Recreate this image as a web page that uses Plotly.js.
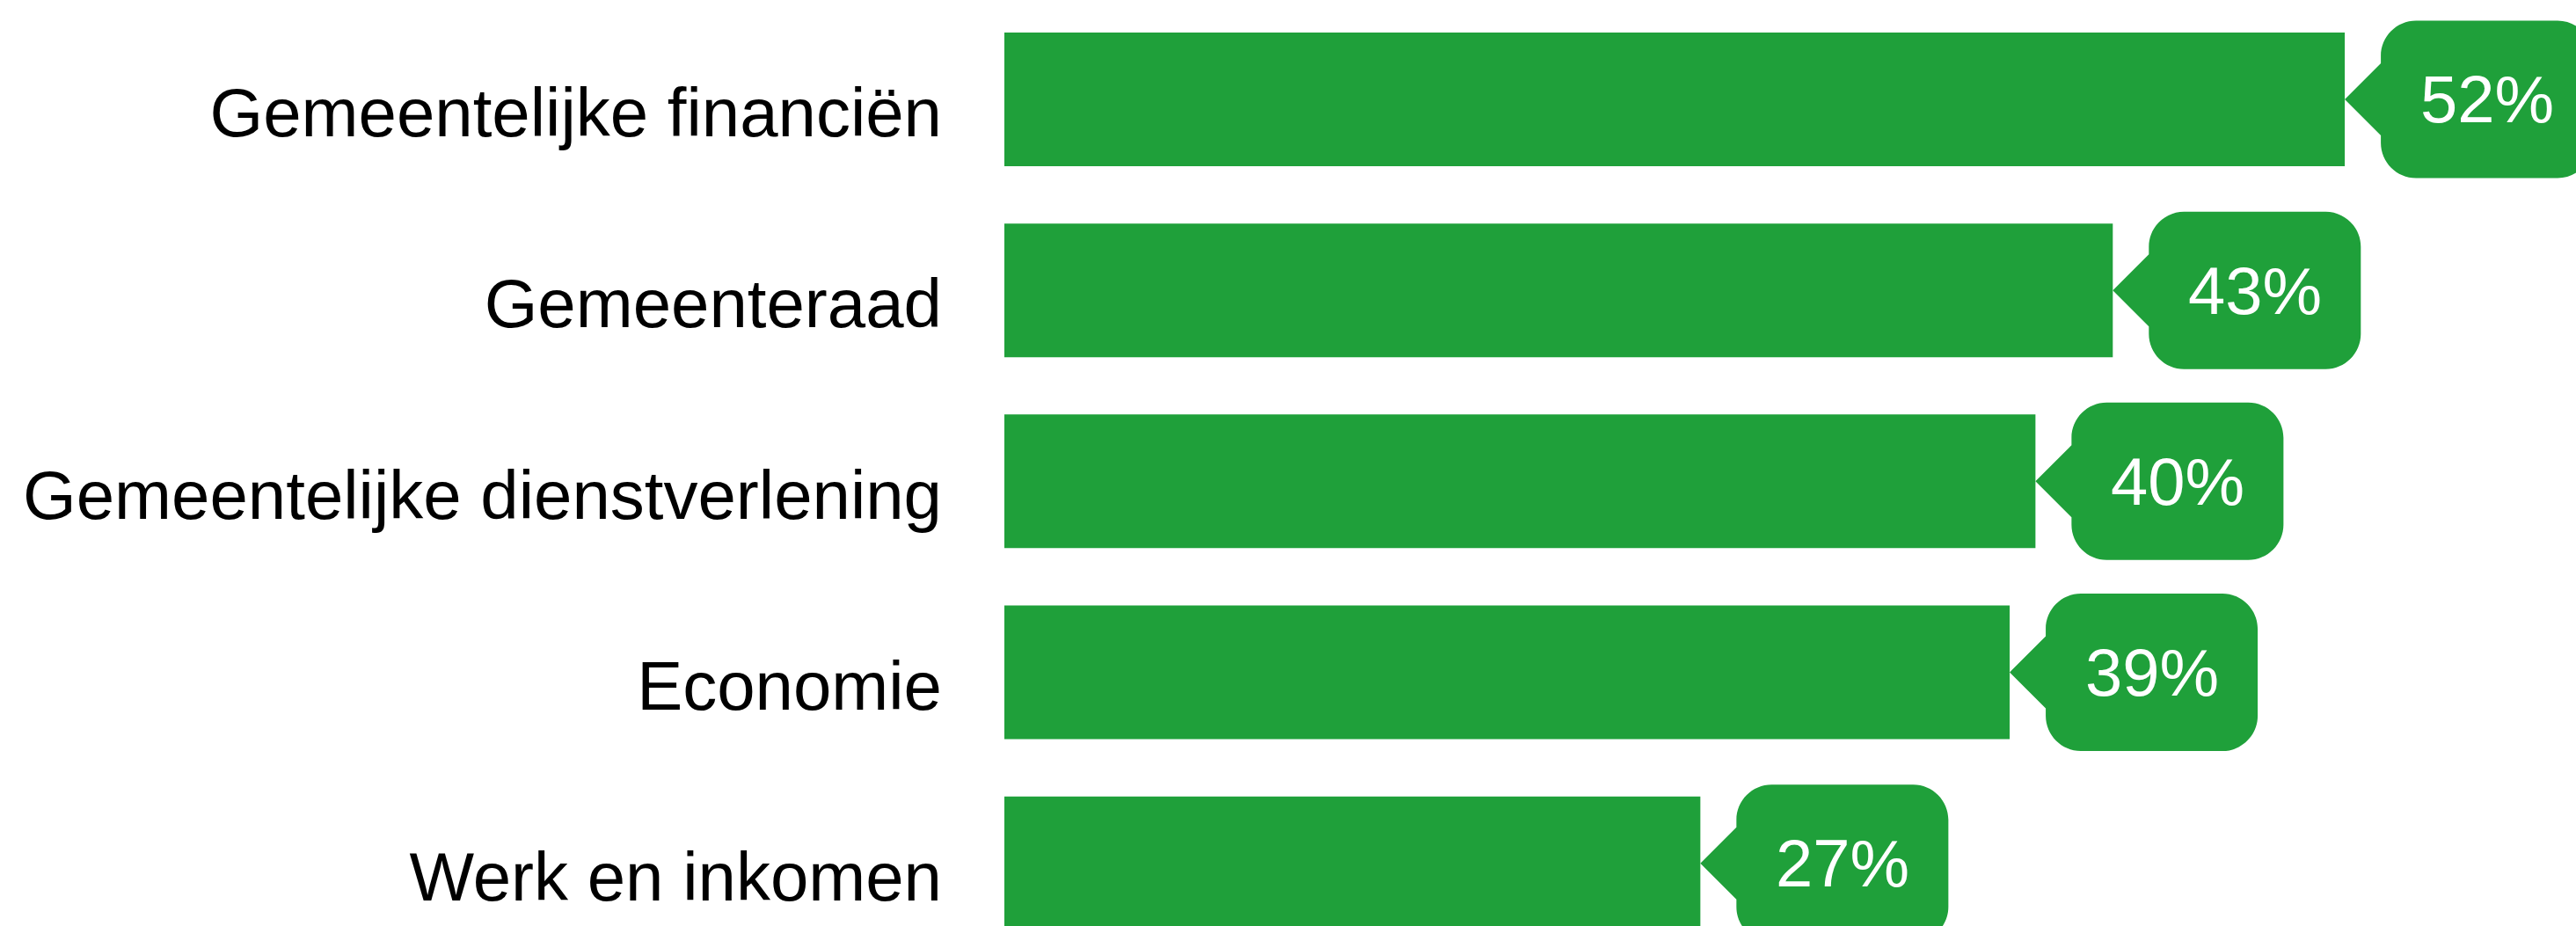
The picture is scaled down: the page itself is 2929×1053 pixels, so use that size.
<!DOCTYPE html>
<html>
<head>
<meta charset="utf-8">
<script src="https://cdn.plot.ly/plotly-3.0.1.min.js"></script>
<style>html,body{margin:0;padding:0;background:#fff;overflow:hidden}</style>
</head>
<body>
<div id="chart" style="width:2929px;height:1053px"></div>
<script>
// Data
const categories = ["Gemeentelijke financiën", "Gemeenteraad", "Gemeentelijke dienstverlening", "Economie", "Werk en inkomen"];
const values = [52, 43, 40, 39, 27];
const valueLabels = ["52%", "43%", "40%", "39%", "27%"];

const green = "#1fa03a";
const font = "Liberation Sans, Arial, Helvetica, sans-serif";

// callout geometry in pixels (relative to bar end / bar centre)
const tipW = 41, tipH = 41, boxW = 241, boxH = 179, rad = 40;
const hb = boxH / 2, bx0 = tipW, bx1 = tipW + boxW, k = rad * 0.45;
const calloutPath =
  `M0,0 L${bx0},${tipH} L${bx0},${hb - rad} C${bx0},${hb - k} ${bx0 + k},${hb} ${bx0 + rad},${hb} ` +
  `L${bx1 - rad},${hb} C${bx1 - k},${hb} ${bx1},${hb - k} ${bx1},${hb - rad} ` +
  `L${bx1},${-hb + rad} C${bx1},${-hb + k} ${bx1 - k},${-hb} ${bx1 - rad},${-hb} ` +
  `L${bx0 + rad},${-hb} C${bx0 + k},${-hb} ${bx0},${-hb + k} ${bx0},${-hb + rad} L${bx0},${-tipH} Z`;

const shapes = values.map((v, i) => ({
  type: "path", xref: "x", yref: "y",
  xsizemode: "pixel", ysizemode: "pixel",
  xanchor: v, yanchor: i,
  path: calloutPath,
  fillcolor: green, line: {width: 0}, layer: "above"
}));

const annotations = values.map((v, i) => ({
  x: v, y: i, xref: "x", yref: "y",
  text: valueLabels[i], showarrow: false,
  xanchor: "center", yanchor: "middle",
  xshift: tipW + boxW / 2,
  font: {family: font, size: 76, color: "#ffffff"}
}));

const trace = {
  type: "bar", orientation: "h",
  x: values, y: categories.map((c, i) => i),
  marker: {color: green, line: {width: 0}},
  hoverinfo: "skip"
};

const layout = {
  width: 2929, height: 1053,
  margin: {l: 1142, r: 0, t: 0, b: 0, pad: 0},
  paper_bgcolor: "#ffffff", plot_bgcolor: "#ffffff",
  bargap: 0.30,
  showlegend: false,
  hovermode: false,
  xaxis: {range: [0, 60.97], visible: false, fixedrange: true},
  yaxis: {
    range: [4.328, -0.520],
    tickmode: "array",
    tickvals: categories.map((c, i) => i),
    ticktext: categories,
    showgrid: false, zeroline: false, showline: false,
    ticks: "", ticklabelstandoff: 70, ticklabelshift: -15,
    tickfont: {family: font, size: 78, color: "#000000"},
    fixedrange: true
  },
  shapes: shapes,
  annotations: annotations
};

Plotly.newPlot("chart", [trace], layout, {displayModeBar: false, staticPlot: true});
</script>
</body>
</html>
